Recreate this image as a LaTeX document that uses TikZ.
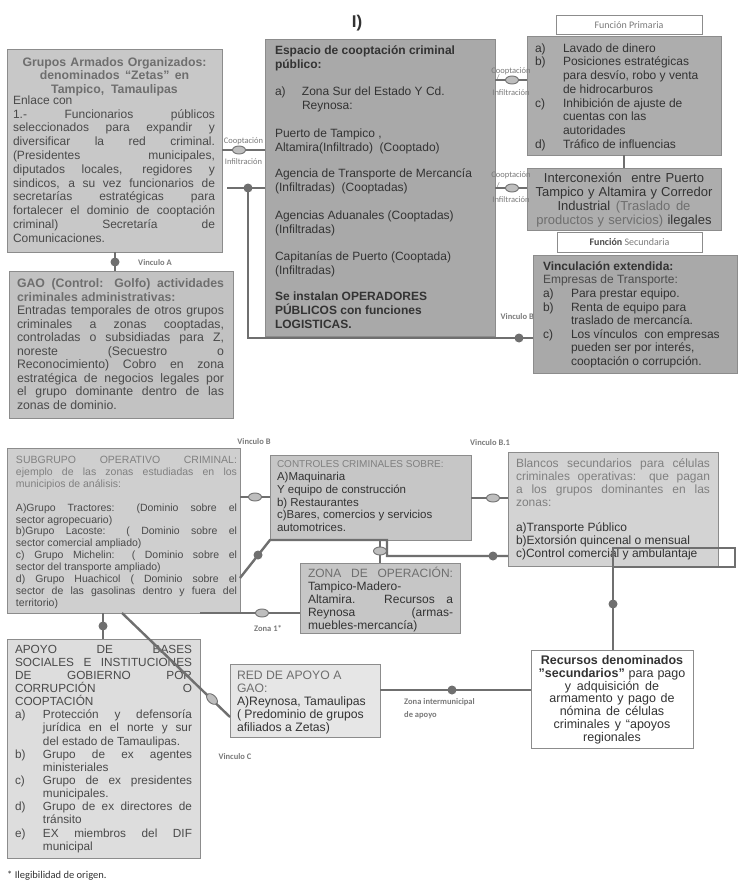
\documentclass[tikz,border=0pt]{standalone}
\usepackage{fontspec}
\setmainfont{Liberation Sans}
\newfontfamily\calib{Carlito}
\usetikzlibrary{shapes.geometric}
\newcommand\ns{\spaceskip=0pt\xspaceskip=0pt\relax}
\newcommand\J[1]{\makebox[\linewidth][s]{\ns #1}}
\newcommand\Jw[2]{\makebox[#1][s]{\ns #2}}
\newcommand\lab[1]{\makebox[28pt][l]{#1}}
\newcommand\ind{\hspace*{28pt}}
\definecolor{fA}{HTML}{C8C8C8}
\definecolor{fG}{HTML}{C2C2C2}
\definecolor{fM}{HTML}{A9A9A9}
\definecolor{fP}{HTML}{ADADAD}
\definecolor{fS}{HTML}{CFCFCF}
\definecolor{fC}{HTML}{C6C6C6}
\definecolor{fB}{HTML}{D3D3D3}
\definecolor{fAp}{HTML}{DDDDDD}
\definecolor{fR}{HTML}{E6E6E6}
\definecolor{bdr}{HTML}{8C8C8C}
\definecolor{lnc}{HTML}{6F6F6F}
\definecolor{ovf}{HTML}{BEBEBE}
\definecolor{tDark}{HTML}{333333}
\definecolor{tBody}{HTML}{4A4A4A}
\definecolor{tTit}{HTML}{6E6E6E}
\definecolor{tLight}{HTML}{808080}
\definecolor{tLab}{HTML}{7A7A7A}
\begin{document}
\begin{tikzpicture}[x=1pt,y=-1pt,
  box/.style={draw=bdr,line width=1pt,rectangle,inner sep=0pt,outer sep=0pt,anchor=north west},
  txt/.style={inner sep=0pt,outer sep=0pt,anchor=base west,align=left},
  conn/.style={draw=lnc,line width=2.4pt},
  thin/.style={draw=lnc,line width=1.8pt},
  dot/.style={circle,fill=lnc,inner sep=0pt,minimum size=9pt},
  oval/.style={ellipse,draw=lnc,fill=ovf,line width=0.9pt,minimum width=13pt,minimum height=8pt,inner sep=0pt},
  clab/.style={font=\calib\fontsize{8.5}{9}\selectfont,text=tLab,inner sep=0pt},
  vlab/.style={font=\calib\bfseries\fontsize{8.5}{9}\selectfont,text=tLab,inner sep=0pt}]
\fill[white] (0,0) rectangle (747,888);
\useasboundingbox (0,0) rectangle (747,888);

% ---------- boxes ----------
\node[box,fill=fA,minimum width=215pt,minimum height=202pt] (A) at (7,50) {};
\node[box,fill=fG,minimum width=224pt,minimum height=147pt] (G) at (9,271) {};
\node[box,fill=fM,minimum width=230pt,minimum height=296pt] (M) at (265,40) {};
\node[box,fill=white,minimum width=146pt,minimum height=19pt] (FP) at (556,16) {};
\node[box,fill=fP,minimum width=194pt,minimum height=118pt] (P) at (527,37) {};
\node[box,fill=fP,minimum width=194pt,minimum height=62pt] (I) at (527,168) {};
\node[box,fill=white,minimum width=145pt,minimum height=20pt] (FS) at (557,232) {};
\node[box,fill=fM,minimum width=204pt,minimum height=118pt] (V) at (533,255) {};
\node[box,fill=fS,minimum width=233pt,minimum height=165pt] (S) at (7,448) {};
\node[box,fill=fC,minimum width=201pt,minimum height=85pt] (C) at (270,455) {};
\node[box,fill=fB,minimum width=210pt,minimum height=114pt] (B) at (508,452) {};
\node[box,fill=fC,minimum width=160pt,minimum height=70pt] (Z) at (300,563) {};
\node[box,fill=fAp,minimum width=193pt,minimum height=219pt] (Ap) at (7,639) {};
\node[box,fill=fR,minimum width=150pt,minimum height=73pt] (R) at (230,664) {};
\node[box,fill=white,minimum width=162pt,minimum height=98pt] (Rc) at (531,650) {};

% ---------- title ----------
\node[font=\bfseries\fontsize{17}{20}\selectfont,text=tDark,inner sep=0pt] (T) at (357,23) {I)};

% ---------- texts ----------
\node[txt,anchor=base,align=center,text width=205pt,text=tTit,font=\bfseries\fontsize{12.3}{13.4}\selectfont] (At1) at (114.5,66.5)
 {\ns Grupos Armados Organizados:\\ denominados “Zetas” en\\ Tampico, Tamaulipas};
\node[txt,text width=202pt,text=tBody,font=\fontsize{12}{13.8}\selectfont] (At2) at (13,104.3)
 {\ns Enlace con\\
  \J{1.- Funcionarios públicos}\\
  \J{seleccionados para expandir y}\\
  \J{diversificar la red criminal.}\\
  \J{(Presidentes municipales,}\\
  \J{diputados locales, regidores y}\\
  \J{sindicos, a su vez funcionarios de}\\
  \J{secretarías estratégicas para}\\
  \J{fortalecer el dominio de cooptación}\\
  \J{criminal) Secretaría de}\\
  Comunicaciones.};

\node[txt,text width=207pt,text=tBody,font=\fontsize{12.3}{13.5}\selectfont] (Gt) at (17,287.5)
 {\ns\J{\bfseries\color{tTit}GAO (Control: Golfo) actividades}\\
  {\bfseries\color{tTit}criminales administrativas:}\\
  \J{Entradas temporales de otros grupos}\\
  \J{criminales a zonas cooptadas,}\\
  \J{controladas o subsidiadas para Z,}\\
  \J{noreste (Secuestro o}\\
  \J{Reconocimiento) Cobro en zona}\\
  \J{estratégica de negocios legales por}\\
  \J{el grupo dominante dentro de las}\\
  zonas de dominio.};

\node[txt,text width=215pt,text=tDark,font=\fontsize{12}{14}\selectfont] (Mt) at (275,54.3)
 {\ns{\bfseries Espacio de cooptación criminal}\\
  {\bfseries público:}\\[13.5pt]
  \makebox[27pt][l]{a)}Zona\ Sur del Estado Y Cd.\\
  \hspace*{27pt}Reynosa:\\[13.5pt]
  Puerto de Tampico ,\\
  Altamira(Infiltrado)\ \ (Cooptado)\\[12pt]
  Agencia de Transporte\ de Mercancía\\
  (Infiltradas)\ \ (Cooptadas)\\[14pt]
  Agencias Aduanales (Cooptadas)\\
  (Infiltradas)\\[13pt]
  Capitanías\ de Puerto (Cooptada)\\
  (Infiltradas)\\[12pt]
  {\bfseries Se instalan OPERADORES}\\
  {\bfseries PÚBLICOS con funciones}\\
  {\bfseries LOGISTICAS.}};

\node[font=\calib\fontsize{10}{12}\selectfont,text=tLab,inner sep=0pt] (FPt) at (FP.center) {Función Primaria};
\node[font=\calib\fontsize{10}{12}\selectfont,text=tLab,inner sep=0pt] (FSt) at (FS.center) {{\bfseries\color{tBody}Función} Secundaria};

\node[txt,text width=182pt,text=tDark,font=\fontsize{12}{13.7}\selectfont] (Pt) at (535,52.3)
 {\ns\lab{a)}Lavado de dinero\\
  \lab{b)}Posiciones estratégicas\\
  \ind para desvío,\ robo y venta\\
  \ind de hidrocarburos\\
  \lab{c)}Inhibición\ de ajuste de\\
  \ind cuentas con las\\
  \ind autoridades\\
  \lab{d)}Tráfico de influencias};

\node[txt,anchor=base,align=center,text width=192pt,text=tDark,font=\fontsize{13}{14.1}\selectfont] (It) at (624,182.5)
 {\ns Interconexión\ \ entre Puerto\\
  Tampico y Altamira y Corredor\\
  Industrial {\color{tTit}(Traslado de}\\
  {\color{tTit}productos y servicios)} ilegales};

\node[txt,text width=194pt,text=tDark,font=\fontsize{12}{13.6}\selectfont] (Vt) at (543,270.3)
 {\ns{\bfseries Vinculación extendida:}\\
  {\color{tBody}Empresas de Transporte:}\\
  \lab{a)}Para prestar equipo.\\
  \lab{b)}Renta\ de equipo para\\
  \ind traslado de mercancía.\\
  \lab{c)}Los vínculos\ \ con empresas\\
  \ind pueden ser por interés,\\
  \ind cooptación o corrupción.};

\node[txt,text width=221pt,text=tBody,font=\fontsize{10.5}{11.85}\selectfont] (St) at (16,463.8)
 {\ns\J{\color{tLight}SUBGRUPO OPERATIVO CRIMINAL:}\\
  \J{\color{tLight}ejemplo de las zonas estudiadas en los}\\
  {\color{tLight}municipios de análisis:}\\[11.85pt]
  \J{A)Grupo Tractores: (Dominio sobre el}\\
  sector agropecuario)\\
  \J{b)Grupo Lacoste: ( Dominio sobre el}\\
  sector comercial ampliado)\\
  \J{c) Grupo Michelin: ( Dominio sobre el}\\
  sector del transporte ampliado)\\
  \J{d) Grupo Huachicol ( Dominio sobre el}\\
  \J{sector de las gasolinas dentro y fuera del}\\
  territorio)};

\node[txt,text width=190pt,text=tDark,font=\fontsize{11.5}{12.8}\selectfont] (Ct) at (277,467.6)
 {\ns{\fontsize{10}{12.8}\selectfont\color{tLight}CONTROLES CRIMINALES SOBRE:}\\
  A)Maquinaria\\
  Y equipo de construcción\\
  b) Restaurantes\\
  c)Bares, comercios y servicios\\
  automotrices.};

\node[txt,text width=194pt,text=tDark,font=\fontsize{12}{12.9}\selectfont] (Bt) at (516,467.3)
 {\ns\J{\color{tLight}Blancos secundarios para células}\\
  \J{\color{tLight}criminales operativas: que pagan}\\
  \J{\color{tLight}a los grupos dominantes en las}\\
  {\color{tLight}zonas:}\\[12.9pt]
  a)Transporte\ Público\\
  b)Extorsión quincenal o mensual\\
  c)Control comercial y ambulantaje};

\node[txt,text width=145pt,text=tDark,font=\fontsize{12}{13}\selectfont] (Zt) at (308,577.3)
 {\ns\J{\color{tTit}ZONA DE OPERACIÓN:}\\
  Tampico-Madero-\\
  \J{Altamira. Recursos a}\\
  \J{Reynosa (armas-}\\
  muebles-mercancía)};

\node[txt,text width=177pt,text=tBody,font=\fontsize{11.8}{13.13}\selectfont] (Apt) at (15,653.2)
 {\ns\J{APOYO DE BASES}\\
  \J{SOCIALES E INSTITUCIONES}\\
  \J{DE GOBIERNO POR}\\
  \J{CORRUPCIÓN O}\\
  COOPTACIÓN\\
  \lab{a)}\Jw{149pt}{Protección y defensoría}\\
  \ind\Jw{149pt}{jurídica en el norte y sur}\\
  \ind del estado de Tamaulipas.\\
  \lab{b)}\Jw{149pt}{Grupo de ex agentes}\\
  \ind ministeriales\\
  \lab{c)}\Jw{149pt}{Grupo de ex presidentes}\\
  \ind municipales.\\
  \lab{d)}\Jw{149pt}{Grupo de ex directores de}\\
  \ind tránsito\\
  \lab{e)}\Jw{149pt}{EX miembros del DIF}\\
  \ind municipal};

\node[txt,text width=140pt,text=tDark,font=\fontsize{12.2}{13}\selectfont] (Rt) at (237,679.4)
 {\ns{\color{tTit}RED DE APOYO A}\\
  {\color{tTit}GAO:}\\
  A)Reynosa,\ Tamaulipas\\
  ( Predominio de grupos\\
  afiliados a Zetas)};

\node[txt,anchor=base,align=center,text width=158pt,text=tDark,font=\fontsize{12.5}{12.8}\selectfont] (Rct) at (612,664.5)
 {\ns{\bfseries Recursos denominados}\\
  {\bfseries "secundarios"} para pago\\
  y adquisición de\\
  armamento\ y pago de\\
  nómina\ de células\\
  criminales y “apoyos\\
  regionales};

% ---------- connectors ----------
\coordinate (c1) at (227,188);
\coordinate (q1) at (613,548);
\coordinate (q2) at (735,567);
\draw[thin] (A.east |- 0,150) -- (M.west |- 0,150);
\draw[conn] (c1) -- (M.west |- 0,188);
\draw[conn] (c1 -| 248,0) |- (V.west |- 0,338);
\draw[conn] (A.south -| 115,0) -- (G.north -| 115,0);
\draw[thin] (M.east |- 0,80) -- (P.west |- 0,80);
\draw[thin] (M.east |- 0,188) -- (I.west |- 0,188);
\draw[conn] (P.south) -- (I.north);

\draw[conn] (S.east |- 0,497) -- (C.west |- 0,497);
\draw[conn] (C.east |- 0,498) -- (B.west |- 0,498);
\draw[conn] (S.east |- 0,578) -- (C.south west) -- (C.south -| 387,0) |- (B.west |- 0,556);
\draw[conn] (C.south -| Z.north) -- (Z.north);
\draw[conn] (S.south -| 200,0) -- (Z.west |- 0,613);
\draw[conn] (S.south -| 103,0) -- (Ap.north -| 103,0);
\draw[conn] (S.south -| 122,0) -- (R.west |- 0,717);
\draw[conn] (R.east |- 0,690) -- (Rc.west |- 0,690);
\draw[conn] (Rc.north -| q1) -- (q1);
\draw[draw=lnc,line width=1.8pt] (q1) rectangle (q2);

% ---------- dots and ovals ----------
\node[dot] (dA) at (115,262) {};
\node[dot] (dB0) at (248,188) {};
\node[dot] (dB) at (519,338) {};
\node[dot] (d5) at (258,555) {};
\node[dot] (d6) at (493,556) {};
\node[dot] (d7) at (613,604) {};
\node[dot] (d8) at (452,690) {};
\node[dot] (d9) at (103,626) {};
\node[oval] (o1) at (239,150) {};
\node[oval] (o2) at (512,80) {};
\node[oval] (o3) at (512,188) {};
\node[oval] (o4) at (255,497) {};
\node[oval] (o5) at (493,498) {};
\node[oval] (o6) at (380,551) {};
\node[oval] (o7) at (262,613) {};
\node[oval,rotate=-44] (o8) at (212,699) {};

% ---------- labels ----------
\node[clab] (l1a) at (243.5,141) {Cooptación};
\node[clab] (l1b) at (243.5,162) {Infiltración};
\node[clab] (l2a) at (511,71) {Cooptación};
\node[clab] (l2s) at (498,78) {/};
\node[clab] (l2b) at (511,93) {Infiltración};
\node[clab] (l3a) at (511,175) {Cooptación};
\node[clab] (l3s) at (498,186) {/};
\node[clab] (l3b) at (511,200) {Infiltración};
\node[vlab] (vA) at (155,263) {Vinculo A};
\node[vlab,anchor=east] (vB) at (534,317) {Vinculo B};
\node[vlab] (vB2) at (254,442) {Vinculo B};
\node[vlab] (vB1) at (490,443) {Vinculo B.1};
\node[vlab] (vz1) at (268,628) {Zona 1*};
\node[vlab,anchor=north west,align=left,font=\calib\bfseries\fontsize{8.5}{13}\selectfont] (vzi) at (404,698) {Zona intermunicipal\\de apoyo};
\node[vlab] (vC) at (235,757) {Vinculo C};
\node[anchor=base west,inner sep=0pt,text=tDark,font=\calib\fontsize{10.5}{12}\selectfont] (fn) at (7,878.5) {* Ilegibilidad de origen.};
\end{tikzpicture}
\end{document}
